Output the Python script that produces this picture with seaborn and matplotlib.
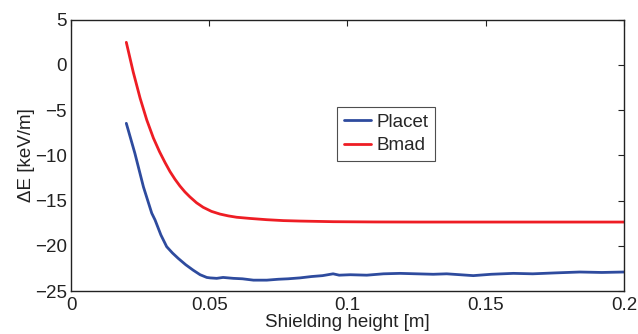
import matplotlib
matplotlib.use("Agg")
import matplotlib.pyplot as plt
import seaborn as sns
import pandas as pd

x_placet = [0.020, 0.0231, 0.0262, 0.0292, 0.0304, 0.0325, 0.0346, 0.0367, 0.0388, 0.0415,
            0.0442, 0.0467, 0.0491, 0.0503, 0.0527, 0.055, 0.0587, 0.062, 0.066, 0.0708,
            0.075, 0.0785, 0.0828, 0.087, 0.091, 0.0948, 0.097, 0.101, 0.107, 0.113,
            0.119, 0.125, 0.131, 0.1359, 0.1455, 0.152, 0.16, 0.167, 0.175, 0.184,
            0.192, 0.2]
y_placet = [-6.47, -9.78, -13.5, -16.4, -17.15, -18.8, -20.1, -20.8, -21.4, -22.1,
            -22.7, -23.2, -23.5, -23.55, -23.6, -23.5, -23.6, -23.65, -23.8, -23.8,
            -23.7, -23.65, -23.55, -23.4, -23.3, -23.1, -23.25, -23.2, -23.25, -23.1,
            -23.05, -23.1, -23.15, -23.1, -23.3, -23.15, -23.05, -23.1, -23.0, -22.9,
            -22.95, -22.9]

x_bmad = [0.020, 0.0225, 0.025, 0.0274, 0.0298, 0.032, 0.034, 0.0358, 0.0376, 0.0394,
          0.0412, 0.043, 0.0454, 0.0478, 0.0508, 0.0539, 0.0569, 0.0599, 0.0647, 0.0708,
          0.0768, 0.0828, 0.0948, 0.11, 0.126, 0.15, 0.2]
y_bmad = [2.48, -0.8, -3.7, -6.1, -8.1, -9.6, -10.8, -11.8, -12.65, -13.4,
          -14.05, -14.6, -15.25, -15.75, -16.2, -16.5, -16.7, -16.85, -16.98, -17.12,
          -17.22, -17.27, -17.34, -17.37, -17.38, -17.38, -17.38]

series_names = ["Placet", "Bmad"]
colors = ["#2e4b9e", "#ee1d24"]

df = pd.concat([
    pd.DataFrame({"x": x_placet, "y": y_placet, "code": series_names[0]}),
    pd.DataFrame({"x": x_bmad, "y": y_bmad, "code": series_names[1]}),
], ignore_index=True)

sns.set_theme(style="white")
plt.rcParams["font.family"] = ["Liberation Sans", "DejaVu Sans"]

FS = 13.5
fig = plt.figure(figsize=(6.38, 3.34), dpi=100)
ax = fig.add_axes([0.1113, 0.1287, 0.978 - 0.1113, 0.9416 - 0.1287])

sns.lineplot(data=df, x="x", y="y", hue="code", palette=dict(zip(series_names, colors)),
             linewidth=2.0, ax=ax, sort=False, estimator=None)

ax.set_xlim(0, 0.2)
ax.set_ylim(-25, 5)
ax.set_xticks([0, 0.05, 0.1, 0.15, 0.2])
ax.set_xticklabels(["0", "0.05", "0.1", "0.15", "0.2"])
ax.set_yticks([-25, -20, -15, -10, -5, 0, 5])
ax.set_yticklabels(["\u221225", "\u221220", "\u221215", "\u221210", "\u22125", "0", "5"])
ax.tick_params(direction="in", length=4, width=0.8, top=True, right=True,
               labelsize=FS, colors="#222222")
ax.tick_params(axis="x", pad=4)
ax.tick_params(axis="y", pad=3)
for s in ax.spines.values():
    s.set_color("#222222")
    s.set_linewidth(1.0)

ax.set_xlabel("Shielding height [m]", fontsize=FS, color="#222222", labelpad=0)
ax.set_ylabel("\u0394E [keV/m]", fontsize=FS, color="#222222", labelpad=0)

leg = ax.legend(loc="lower left", bbox_to_anchor=(0.481, 0.479), fontsize=FS,
                frameon=True, fancybox=False, edgecolor="#222222", handlelength=1.45,
                handletextpad=0.3, borderpad=0.35, labelspacing=0.35, borderaxespad=0)
leg.get_frame().set_linewidth(0.8)

fig.savefig("out.png", dpi=100)
